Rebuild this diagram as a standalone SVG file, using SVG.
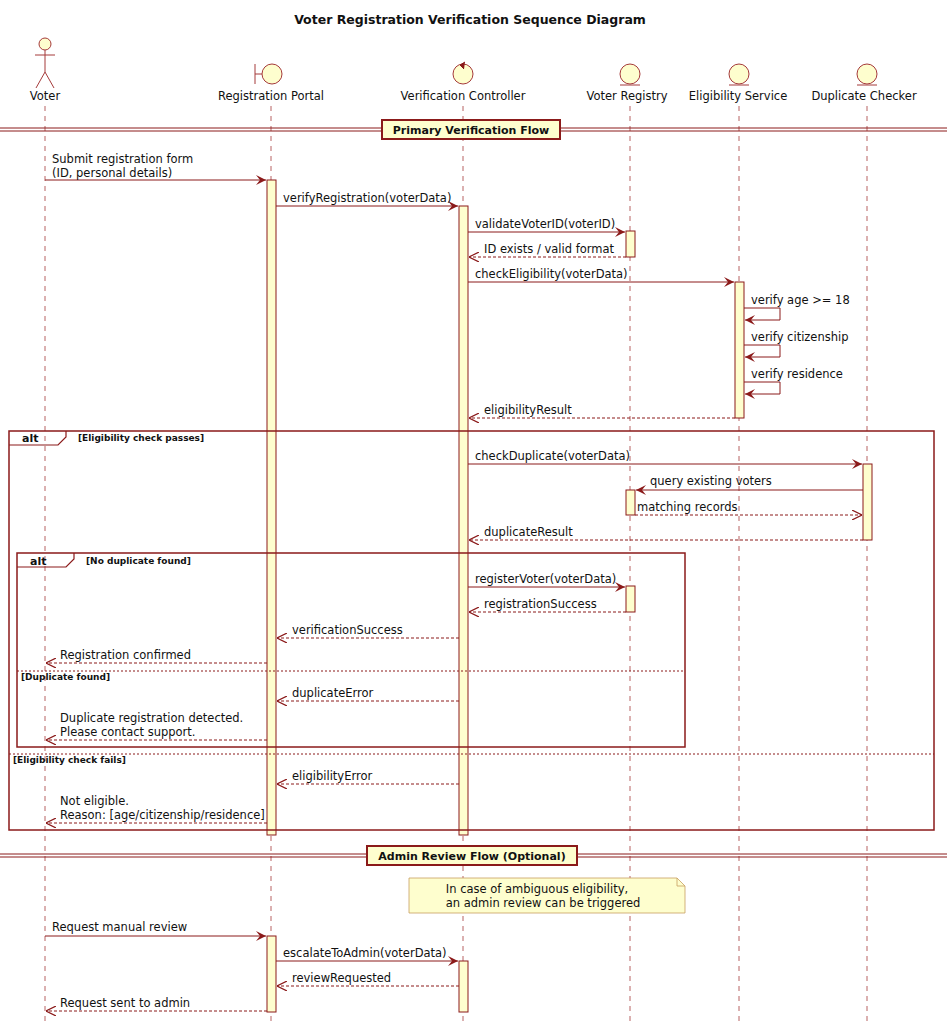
<svg xmlns="http://www.w3.org/2000/svg" width="947" height="1024" viewBox="0 0 947 1024">
<defs>
<marker id="a" viewBox="0 0 10 10" refX="10" refY="5" markerWidth="10" markerHeight="10" markerUnits="userSpaceOnUse" orient="auto"><path d="M0,0 L10,5 L0,10 L4,5 Z" fill="#8B1A1A"/></marker>
<marker id="o" viewBox="0 0 10 10" refX="10" refY="5" markerWidth="10" markerHeight="10" markerUnits="userSpaceOnUse" orient="auto"><path d="M0,0 L10,5 L0,10" fill="none" stroke="#8B1A1A" stroke-width="1.2"/></marker>
<style>
text{font-family:"DejaVu Sans",sans-serif;font-size:11.5px;fill:#111}
.b{font-weight:bold;font-size:10px}
.t{font-weight:bold;font-size:12.5px}
.ll{stroke:#A53A3A;stroke-dasharray:5,5;stroke-width:0.8;fill:none}
.act{fill:#FEFECE;stroke:#8B1A1A;stroke-width:1}
.m{stroke:#8B1A1A;stroke-width:1;fill:none;marker-end:url(#a)}
.r{stroke:#8B1A1A;stroke-width:1;fill:none;stroke-dasharray:3,2;marker-end:url(#o)}
.h{fill:#FEFECE;stroke:#A53A3A;stroke-width:1}
.f{fill:none;stroke:#8B1A1A;stroke-width:1.5}
.sep{stroke:#8B1A1A;stroke-width:1;stroke-dasharray:2,2}
</style>
</defs>
<text x="470" y="24" text-anchor="middle" class="t">Voter Registration Verification Sequence Diagram</text>
<g id="lifelines">
<line class="ll" x1="45" y1="106" x2="45" y2="1022"/>
<line class="ll" x1="271" y1="106" x2="271" y2="1022"/>
<line class="ll" x1="463" y1="106" x2="463" y2="1022"/>
<line class="ll" x1="630" y1="106" x2="630" y2="1022"/>
<line class="ll" x1="739" y1="106" x2="739" y2="1022"/>
<line class="ll" x1="867" y1="106" x2="867" y2="1022"/>
</g>
<g id="voter"><circle class="h" cx="45" cy="44" r="6"/><path class="h" d="M45,50 V72 M35,55 H55 M45,72 L36,88 M45,72 L54,88"/><text x="45" y="100" text-anchor="middle">Voter</text></g>
<g id="portal"><path class="h" d="M255,64 V84 M255,74 H262"/><circle class="h" cx="272" cy="74" r="10"/><text x="271" y="100" text-anchor="middle">Registration Portal</text></g>
<g id="controller"><circle class="h" cx="463" cy="74" r="10"/><path d="M465,62 L460,65 L464,69" fill="#8B1A1A" stroke="#8B1A1A"/><text x="463" y="100" text-anchor="middle">Verification Controller</text></g>
<g id="registry"><circle class="h" cx="630" cy="74" r="10"/><line class="h" x1="620" y1="85" x2="640" y2="85"/><text x="627" y="100" text-anchor="middle">Voter Registry</text></g>
<g id="eligibility"><circle class="h" cx="739" cy="74" r="10"/><line class="h" x1="729" y1="85" x2="749" y2="85"/><text x="738" y="100" text-anchor="middle">Eligibility Service</text></g>
<g id="duplicate"><circle class="h" cx="867" cy="74" r="10"/><line class="h" x1="857" y1="85" x2="877" y2="85"/><text x="864" y="100" text-anchor="middle">Duplicate Checker</text></g>
<g id="dividers">
<path d="M0,128 H947 M0,131 H947" stroke="#8B1A1A" stroke-width="1"/>
<rect x="382" y="120" width="178" height="19" fill="#FEFECE" stroke="#8B1A1A" stroke-width="2"/>
<text x="471" y="134" text-anchor="middle" class="b" style="font-size:11px">Primary Verification Flow</text>
<path d="M0,854 H947 M0,857 H947" stroke="#8B1A1A" stroke-width="1"/>
<rect x="367" y="846" width="210" height="19" fill="#FEFECE" stroke="#8B1A1A" stroke-width="2"/>
<text x="472" y="860" text-anchor="middle" class="b" style="font-size:11px">Admin Review Flow (Optional)</text>
</g>
<g id="activations">
<rect class="act" x="267" y="180" width="9" height="655"/>
<rect class="act" x="459" y="206" width="9" height="629"/>
<rect class="act" x="626" y="231" width="9" height="26"/>
<rect class="act" x="735" y="282" width="9" height="136"/>
<rect class="act" x="863" y="464" width="9" height="76"/>
<rect class="act" x="626" y="490" width="9" height="25"/>
<rect class="act" x="626" y="586" width="9" height="26"/>
<rect class="act" x="267" y="936" width="9" height="76"/>
<rect class="act" x="459" y="961" width="9" height="51"/>
</g>
<g id="frames">
<rect class="f" x="9" y="431" width="925" height="399"/>
<path d="M9,445 H58 L66,437 V431" class="f" style="stroke-width:1.2"/>
<text x="22" y="442" class="b" style="font-size:11px">alt</text>
<text x="78" y="441" class="b" style="font-size:9px">[Eligibility check passes]</text>
<line class="sep" x1="9" y1="754" x2="934" y2="754"/>
<text x="13" y="763" class="b" style="font-size:9px">[Eligibility check fails]</text>
<rect class="f" x="17" y="553" width="668" height="194"/>
<path d="M17,567 H66 L74,559 V553" class="f" style="stroke-width:1.2"/>
<text x="30" y="565" class="b" style="font-size:11px">alt</text>
<text x="86" y="564" class="b" style="font-size:9px">[No duplicate found]</text>
<line class="sep" x1="17" y1="671" x2="685" y2="671"/>
<text x="21" y="680" class="b" style="font-size:9px">[Duplicate found]</text>
</g>
<g id="note"><path d="M409,878 H677 L685,886 V913 H409 Z" fill="#FEFECE" stroke="#C8A060" stroke-width="0.8"/><path d="M677,878 V886 H685" fill="none" stroke="#C8A060" stroke-width="0.8"/><text x="537" y="893" text-anchor="middle">In case of ambiguous eligibility,</text><text x="543" y="907" text-anchor="middle">an admin review can be triggered</text></g>
<g id="connectors">
<path class="m" d="M45,180 H266"/><text x="52" y="163">Submit registration form</text><text x="52" y="177">(ID, personal details)</text>
<path class="m" d="M276,206 H458"/><text x="283" y="202">verifyRegistration(voterData)</text>
<path class="m" d="M468,232 H625"/><text x="475" y="228">validateVoterID(voterID)</text>
<path class="r" d="M626,257 H469"/><text x="484" y="253">ID exists / valid format</text>
<path class="m" d="M468,282 H734"/><text x="475" y="278">checkEligibility(voterData)</text>
<path class="m" d="M744,308 H780 V320 H745"/><text x="751" y="304">verify age &gt;= 18</text>
<path class="m" d="M744,345 H780 V357 H745"/><text x="751" y="341">verify citizenship</text>
<path class="m" d="M744,382 H780 V394 H745"/><text x="751" y="378">verify residence</text>
<path class="r" d="M735,418 H469"/><text x="484" y="414">eligibilityResult</text>
<path class="m" d="M468,464 H862"/><text x="475" y="460">checkDuplicate(voterData)</text>
<path class="m" d="M863,490 H636"/><text x="650" y="485">query existing voters</text>
<path class="r" d="M635,515 H862"/><text x="637" y="511">matching records</text>
<path class="r" d="M863,540 H469"/><text x="484" y="536">duplicateResult</text>
<path class="m" d="M468,587 H625"/><text x="475" y="583">registerVoter(voterData)</text>
<path class="r" d="M626,612 H469"/><text x="484" y="608">registrationSuccess</text>
<path class="r" d="M459,638 H277"/><text x="292" y="634">verificationSuccess</text>
<path class="r" d="M267,663 H46"/><text x="60" y="659">Registration confirmed</text>
<path class="r" d="M459,701 H277"/><text x="292" y="697">duplicateError</text>
<path class="r" d="M267,740 H46"/><text x="60" y="722">Duplicate registration detected.</text><text x="60" y="736">Please contact support.</text>
<path class="r" d="M459,784 H277"/><text x="292" y="780">eligibilityError</text>
<path class="r" d="M267,823 H46"/><text x="60" y="805">Not eligible.</text><text x="60" y="819">Reason: [age/citizenship/residence]</text>
<path class="m" d="M45,936 H266"/><text x="52" y="931">Request manual review</text>
<path class="m" d="M276,961 H458"/><text x="283" y="957">escalateToAdmin(voterData)</text>
<path class="r" d="M459,986 H277"/><text x="292" y="982">reviewRequested</text>
<path class="r" d="M267,1011 H46"/><text x="60" y="1007">Request sent to admin</text>
</g>
</svg>
